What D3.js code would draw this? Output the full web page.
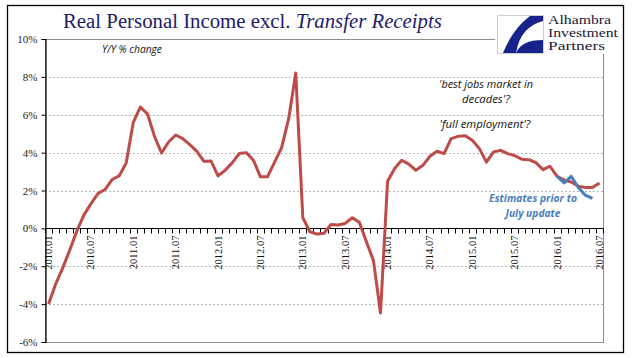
<!DOCTYPE html>
<html>
<head>
<meta charset="utf-8">
<script src="https://cdn.jsdelivr.net/npm/d3@7"></script>
<style>
  body { margin: 0; background: #fff; }
  svg { display: block; }
</style>
</head>
<body>
<div id="chart"></div>
<script>
// monthly categories 2010.01 .. 2016.07
const categories = [];
for (let y = 2010; y <= 2016; y++) {
  for (let m = 1; m <= 12; m++) {
    if (y === 2016 && m > 7) break;
    categories.push(y + "." + String(m).padStart(2, "0"));
  }
}

// Y/Y % change, current vintage (red)
const incomeValues = [
  -4.0, -2.95, -2.1, -1.15, -0.15, 0.7, 1.3, 1.84, 2.05, 2.58, 2.77, 3.46,
  5.6, 6.4, 6.05, 4.86, 3.98, 4.56, 4.93, 4.74, 4.42, 4.07, 3.54, 3.56,
  2.77, 3.07, 3.46, 3.95, 4.0, 3.6, 2.72, 2.72, 3.5, 4.26, 5.79, 8.21,
  0.56, -0.18, -0.3, -0.26, 0.21, 0.18, 0.26, 0.56, 0.32, -0.7, -1.7, -4.47,
  2.49, 3.16, 3.6, 3.39, 3.07, 3.33, 3.81, 4.07, 3.95, 4.74, 4.86, 4.89,
  4.65, 4.21, 3.5, 4.04, 4.12, 3.95, 3.84, 3.65, 3.63, 3.47, 3.1, 3.28,
  2.75, 2.55, 2.45, 2.23, 2.16, 2.16, 2.4
];

// estimates prior to July update (blue), 2016.01 .. 2016.06
const priorCategories = ["2016.01", "2016.02", "2016.03", "2016.04", "2016.05", "2016.06"];
const priorValues = [2.75, 2.4, 2.75, 2.16, 1.75, 1.58];

const yTicks = [10, 8, 6, 4, 2, 0, -2, -4, -6];
const xTickLabels = ["2010.01", "2010.07", "2011.01", "2011.07", "2012.01", "2012.07",
  "2013.01", "2013.07", "2014.01", "2014.07", "2015.01", "2015.07", "2016.01", "2016.07"];

const width = 641;
const height = 358;
const plot = { left: 45, right: 603, top: 39, bottom: 342 };

const svg = d3.select("#chart").append("svg")
  .attr("width", width)
  .attr("height", height);

// outer frame
svg.append("rect")
  .attr("x", 7.5).attr("y", 5.5)
  .attr("width", 616).attr("height", 347)
  .attr("fill", "#fff")
  .attr("stroke", "#000")
  .attr("stroke-width", 1.3);

const x = d3.scalePoint().domain(categories).range([plot.left, plot.right]).padding(0.5);
const y = d3.scaleLinear().domain([-6, 10]).range([plot.bottom, plot.top]);
const step = x.step();

// plot area border
svg.append("rect")
  .attr("x", plot.left + 0.5).attr("y", plot.top + 0.5)
  .attr("width", plot.right - plot.left).attr("height", plot.bottom - plot.top)
  .attr("fill", "none")
  .attr("stroke", "#8c8c8c")
  .attr("stroke-width", 1);

// dashed grid
svg.selectAll(".grid")
  .data(yTicks.filter(d => d !== 10 && d !== -6 && d !== 0))
  .join("line")
  .attr("x1", plot.left).attr("x2", plot.right)
  .attr("y1", d => Math.round(y(d)) + 0.5).attr("y2", d => Math.round(y(d)) + 0.5)
  .attr("stroke", "#a6a6a6")
  .attr("stroke-dasharray", "2,2")
  .attr("stroke-width", 0.8);

// y axis
const yAxis = svg.append("g")
  .attr("transform", `translate(${plot.left + 0.5},0)`)
  .call(d3.axisLeft(y).tickValues(yTicks).tickSize(4).tickFormat(d => d + "%"));
yAxis.select(".domain").attr("stroke", "#000").attr("stroke-width", 1.2);
yAxis.selectAll(".tick line").attr("stroke", "#000");
yAxis.selectAll("text")
  .attr("font-family", "Liberation Serif, serif")
  .attr("font-size", 11)
  .attr("fill", "#222")
  .attr("x", -8);

// x axis at 0
const y0 = Math.round(y(0)) + 0.5;
svg.append("line")
  .attr("x1", plot.left).attr("x2", plot.right)
  .attr("y1", y0).attr("y2", y0)
  .attr("stroke", "#000").attr("stroke-width", 1.2);

svg.selectAll(".xtick")
  .data(categories.concat(["end"]))
  .join("line")
  .attr("x1", (d, i) => Math.round(plot.left + i * step) + 0.5)
  .attr("x2", (d, i) => Math.round(plot.left + i * step) + 0.5)
  .attr("y1", y0).attr("y2", y0 + 5)
  .attr("stroke", "#000").attr("stroke-width", 1);

svg.selectAll(".xlabel")
  .data(xTickLabels)
  .join("text")
  .attr("transform", d => `translate(${x(d) + 3.5},${y0 + 7}) rotate(-90)`)
  .attr("text-anchor", "end")
  .attr("font-family", "Liberation Serif, serif")
  .attr("font-size", 10.5)
  .attr("fill", "#111")
  .text(d => d);

// lines
const line = d3.line()
  .x(d => x(d.cat))
  .y(d => y(d.value));

svg.append("path")
  .datum(categories.map((c, i) => ({ cat: c, value: incomeValues[i] })))
  .attr("fill", "none")
  .attr("stroke", "#be4b48")
  .attr("stroke-width", 3)
  .attr("stroke-linejoin", "round")
  .attr("d", line);

svg.append("path")
  .datum(priorCategories.map((c, i) => ({ cat: c, value: priorValues[i] })))
  .attr("fill", "none")
  .attr("stroke", "#4a7ebb")
  .attr("stroke-width", 3)
  .attr("stroke-linejoin", "round")
  .attr("d", line);

// helper to fit a text element to a measured width
function fit(sel, target) {
  const len = sel.node().getComputedTextLength();
  const fs = parseFloat(sel.attr("font-size"));
  sel.attr("font-size", fs * target / len);
}

// title
const title = svg.append("text")
  .attr("x", 63).attr("y", 28)
  .attr("font-family", "Liberation Serif, serif")
  .attr("font-size", 20)
  .attr("fill", "#1d1b6b");
title.append("tspan").text("Real Personal Income excl. ");
title.append("tspan").attr("font-style", "italic").text("Transfer Receipts");
fit(title, 379);

// subtitle
const sub = svg.append("text")
  .attr("x", 102).attr("y", 53)
  .attr("font-family", "Open Sans, sans-serif")
  .attr("font-style", "italic")
  .attr("font-size", 9)
  .attr("fill", "#111")
  .text("Y/Y % change");
fit(sub, 60);

// annotations
const notes = [
  { t: "'best jobs market in", x: 486, y: 88, w: 94 },
  { t: "decades'?", x: 486, y: 103, w: 48 },
  { t: "'full employment'?", x: 485, y: 128, w: 91 }
];
notes.forEach(n => {
  const t = svg.append("text")
    .attr("x", n.x).attr("y", n.y)
    .attr("text-anchor", "middle")
    .attr("font-family", "Open Sans, sans-serif")
    .attr("font-style", "italic")
    .attr("font-size", 10.5)
    .attr("fill", "#111")
    .text(n.t);
  fit(t, n.w);
});

const blueNotes = [
  { t: "Estimates prior to", x: 533, y: 202, w: 88 },
  { t: "July update", x: 533, y: 217, w: 55 }
];
blueNotes.forEach(n => {
  const t = svg.append("text")
    .attr("x", n.x).attr("y", n.y)
    .attr("text-anchor", "middle")
    .attr("font-family", "Open Sans, sans-serif")
    .attr("font-style", "italic")
    .attr("font-weight", "bold")
    .attr("font-size", 10.5)
    .attr("fill", "#4a7ebb")
    .text(n.t);
  fit(t, n.w);
});

// logo
const logo = svg.append("g");
logo.append("rect")
  .attr("x", 495).attr("y", 8).attr("width", 126).attr("height", 46)
  .attr("fill", "#fff");
logo.append("rect")
  .attr("x", 497.5).attr("y", 15.5).attr("width", 46).attr("height", 38)
  .attr("fill", "#fff").attr("stroke", "#cfcfcf");
logo.append("path")
  .attr("d", "M530,16 L543,16 L543,21 C528,25 519,35 516,53 L503,53 C509,38 518,25 530,16 Z")
  .attr("fill", "#17238a");
logo.append("path")
  .attr("d", "M516,53 C520,44 528,40 543,40 L543,53 Z")
  .attr("fill", "#17238a");
const logoText = [
  { t: "Alhambra", w: 63 },
  { t: "Investment", w: 70 },
  { t: "Partners", w: 57 }
];
logoText.forEach((d, i) => {
  logo.append("text")
    .attr("x", 548).attr("y", 24 + i * 13.2)
    .attr("font-family", "Liberation Serif, serif")
    .attr("font-size", 12)
    .attr("textLength", d.w)
    .attr("lengthAdjust", "spacingAndGlyphs")
    .attr("fill", "#1a1a3a")
    .text(d.t);
});
</script>
</body>
</html>
